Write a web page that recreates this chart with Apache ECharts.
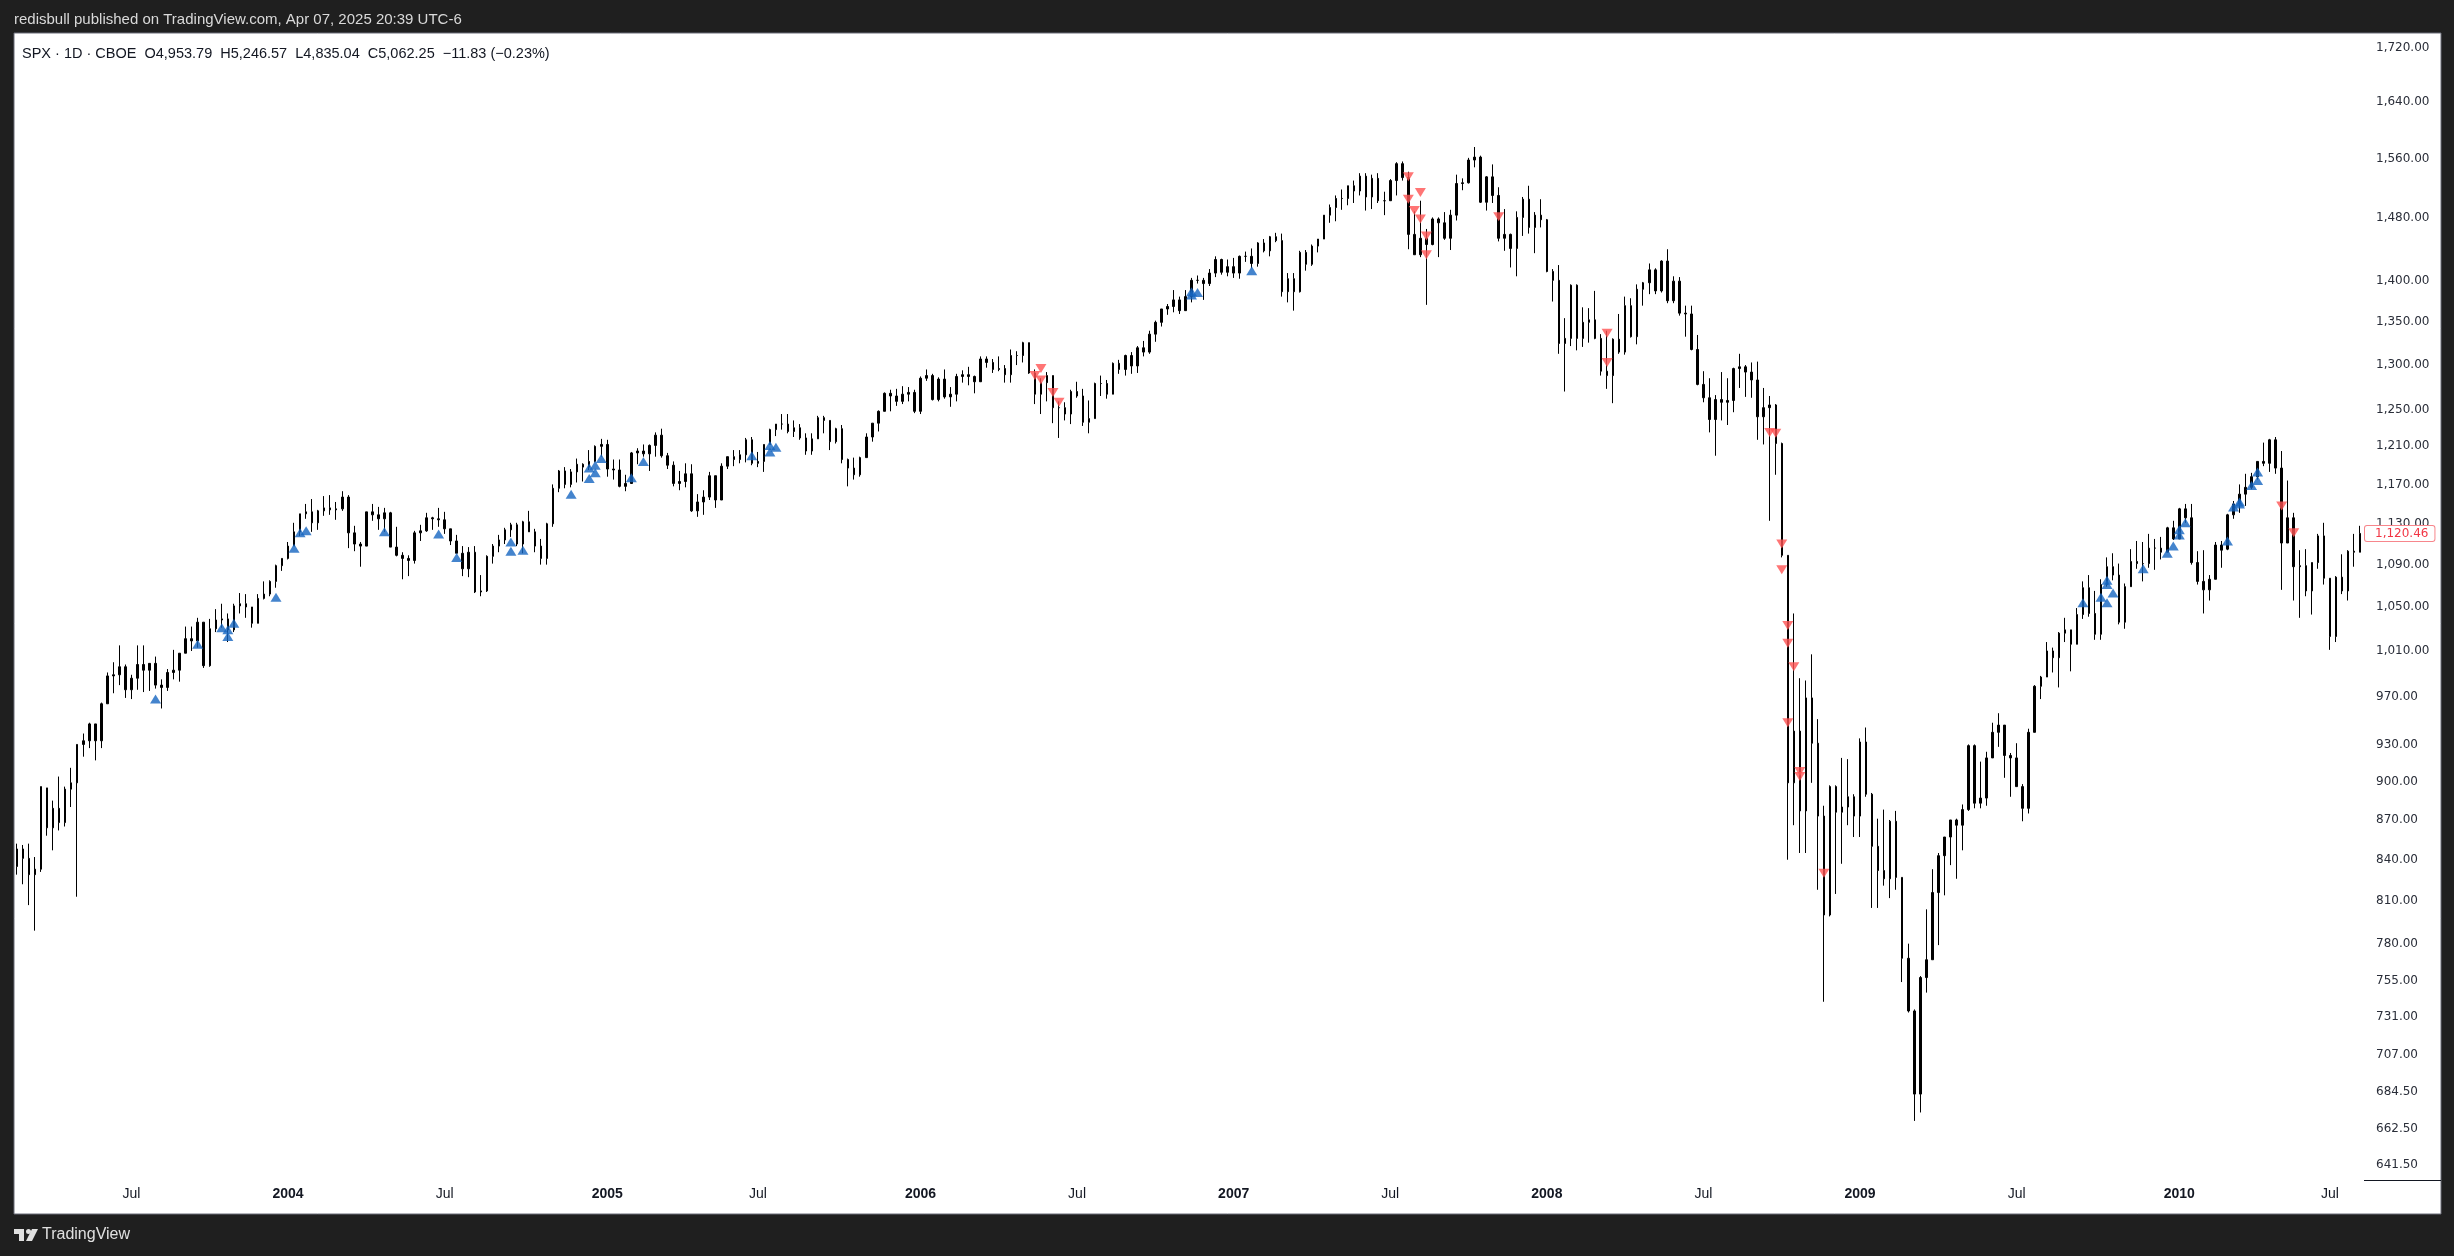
<!DOCTYPE html>
<html><head><meta charset="utf-8">
<script src="https://cdn.jsdelivr.net/npm/echarts@6/dist/echarts.min.js"></script>
<style>html,body{margin:0;padding:0;background:#1f1f1f;overflow:hidden}#c{width:2454px;height:1256px}</style>
</head><body><div id="c"></div>
<script>
// Weekly bars (week starting Monday), each row = [open, close, low, high]
const firstWeek = '2003-02-17';
const ohlc2003 = [
[835,848,829,852],[848,841,822,851],[841,829,807,852],[829,833,789,842],[833,896,831,896],
[895,864,858,895],[864,879,847,885],[879,868,862,904],[868,894,865,896],[894,899,880,911],
[899,930,813,930],[930,933,920,939],[933,947,927,948],[947,933,917,947],[933,964,927,965],
[964,988,964,991],[988,989,973,1000],[989,996,980,1015],[996,976,969,998],[976,986,968,989],
[986,998,976,1015],[998,993,974,1015],[993,999,975,999],[999,980,977,1005],[980,978,960,985],
[978,991,975,994],[991,993,985,1011],[993,1008,983,1008],[1008,1021,1008,1032],[1021,1019,1010,1032],
[1019,1036,1013,1040],[1036,997,995,1036],[997,1030,996,1039],[1030,1038,1027,1048],[1038,1039,1031,1053],
[1039,1029,1018,1044],[1029,1051,1027,1053],[1051,1053,1044,1063],[1053,1050,1040,1062],[1050,1035,1031,1050],
[1035,1058,1035,1062],[1058,1062,1057,1074],[1062,1074,1060,1075],[1074,1089,1068,1090],[1089,1096,1084,1096],
[1096,1108,1095,1112]
];
const ohlc2004 = [
[1108,1122,1108,1131],[1122,1140,1118,1140],[1140,1142,1135,1150],[1142,1131,1122,1155],[1131,1143,1124,1144],
[1143,1146,1138,1158],[1146,1144,1139,1159],[1144,1145,1134,1152],[1145,1157,1143,1163],[1157,1121,1106,1159],
[1121,1110,1103,1128],[1110,1108,1088,1112],[1108,1142,1108,1142],[1142,1139,1133,1150],[1139,1135,1124,1147],
[1135,1141,1122,1146],[1141,1107,1107,1142],[1107,1099,1098,1127],[1099,1096,1076,1102],[1096,1094,1079,1099],
[1094,1121,1091,1123],[1121,1123,1113,1129],[1123,1136,1122,1141],[1136,1135,1124,1137],[1135,1134,1127,1146],
[1134,1125,1120,1142],[1125,1113,1109,1125],[1113,1101,1101,1119],[1101,1086,1079,1108],[1086,1102,1078,1107],
[1102,1064,1063,1108],[1064,1065,1060,1080],[1065,1098,1064,1099],[1098,1108,1091,1110],[1108,1114,1102,1119],
[1114,1124,1110,1126],[1124,1129,1117,1131],[1129,1110,1108,1131],[1110,1132,1101,1133],[1132,1122,1122,1143],
[1122,1108,1102,1125],[1108,1096,1090,1115],[1096,1130,1090,1131],[1130,1166,1127,1170],[1166,1184,1162,1185],
[1184,1170,1166,1188],[1170,1183,1167,1186],[1183,1191,1172,1197],[1191,1188,1173,1192],[1188,1194,1185,1206],
[1194,1210,1193,1211],[1210,1212,1199,1218]
];
const ohlc2005 = [
[1212,1186,1178,1217],[1186,1185,1175,1196],[1185,1168,1167,1196],[1168,1171,1163,1180],[1171,1203,1171,1204],
[1203,1205,1191,1208],[1205,1202,1199,1212],[1202,1211,1184,1212],[1211,1222,1199,1225],[1222,1200,1198,1229],
[1200,1190,1186,1203],[1190,1171,1168,1194],[1171,1173,1164,1184],[1173,1181,1167,1192],[1181,1143,1142,1191],
[1143,1152,1137,1160],[1152,1157,1139,1164],[1157,1179,1154,1183],[1179,1154,1146,1179],[1154,1189,1154,1192],
[1189,1199,1186,1199],[1199,1196,1189,1206],[1196,1201,1192,1206],[1201,1217,1193,1219],[1217,1192,1190,1220],
[1192,1194,1188,1204],[1194,1212,1183,1212],[1212,1228,1212,1229],[1228,1234,1221,1234],[1234,1234,1228,1245],
[1234,1226,1224,1245],[1226,1230,1220,1238],[1230,1219,1217,1234],[1219,1205,1201,1224],[1205,1218,1201,1224],
[1218,1241,1218,1243],[1241,1238,1224,1243],[1238,1215,1206,1238],[1215,1229,1213,1230],[1229,1196,1192,1233],
[1196,1187,1168,1197],[1187,1180,1175,1198],[1180,1198,1178,1199],[1198,1220,1198,1224],[1220,1235,1215,1235],
[1235,1248,1226,1249],[1248,1268,1248,1269],[1268,1265,1248,1272],[1265,1259,1254,1273],[1259,1267,1256,1276],
[1267,1269,1259,1275],[1269,1248,1246,1272]
];
const ohlc2006 = [
[1248,1285,1245,1287],[1285,1288,1282,1295],[1288,1261,1260,1290],[1261,1284,1259,1286],[1284,1264,1262,1295],
[1264,1267,1253,1275],[1267,1287,1259,1290],[1287,1289,1280,1294],[1289,1287,1277,1298],[1287,1281,1268,1288],
[1281,1307,1281,1310],[1307,1303,1297,1310],[1303,1295,1291,1307],[1295,1296,1293,1310],[1296,1289,1280,1300],
[1289,1311,1280,1318],[1311,1311,1300,1316],[1311,1326,1303,1327],[1326,1291,1290,1326],[1291,1267,1256,1295],
[1267,1280,1245,1285],[1280,1288,1259,1292],[1288,1252,1235,1288],[1252,1252,1219,1259],[1252,1245,1238,1258],
[1245,1270,1234,1272],[1270,1265,1263,1281],[1265,1236,1232,1273],[1236,1240,1224,1260],[1240,1279,1240,1280],
[1279,1279,1265,1288],[1279,1267,1262,1283],[1267,1302,1267,1303],[1302,1295,1290,1306],[1295,1311,1288,1312],
[1311,1299,1290,1315],[1299,1320,1291,1322],[1320,1315,1310,1328],[1315,1336,1313,1340],[1336,1350,1327,1352],
[1350,1366,1345,1366],[1366,1369,1359,1372],[1369,1377,1362,1389],[1377,1364,1360,1381],[1364,1381,1364,1389],
[1381,1401,1374,1404],[1401,1401,1397,1407],[1401,1397,1377,1404],[1397,1410,1394,1415],[1410,1427,1405,1431],
[1427,1411,1408,1428],[1411,1418,1406,1427]
];
const ohlc2007 = [
[1418,1410,1404,1429],[1410,1431,1403,1432],[1431,1431,1424,1437],[1431,1422,1416,1441],[1422,1448,1418,1449],
[1448,1438,1436,1453],[1438,1456,1431,1457],[1456,1451,1449,1461],[1451,1387,1381,1460],[1387,1403,1374,1410],
[1403,1387,1364,1410],[1387,1436,1386,1438],[1436,1421,1413,1439],[1421,1444,1419,1446],[1444,1453,1436,1453],
[1453,1484,1453,1484],[1484,1494,1474,1498],[1494,1506,1476,1510],[1506,1506,1491,1518],[1506,1523,1497,1523],
[1523,1516,1500,1530],[1516,1536,1510,1540],[1536,1508,1490,1540],[1508,1533,1492,1538],[1533,1503,1500,1540],
[1503,1503,1484,1515],[1503,1530,1503,1532],[1530,1553,1510,1555],[1553,1534,1530,1556],[1534,1459,1440,1542],
[1459,1433,1433,1489],[1433,1454,1430,1503],[1454,1446,1371,1466],[1446,1479,1445,1481],[1479,1474,1430,1481],
[1474,1454,1452,1488],[1454,1484,1439,1491],[1484,1526,1477,1538],[1526,1527,1517,1533],[1527,1558,1526,1561],
[1558,1562,1548,1576],[1562,1501,1500,1564],[1501,1535,1490,1536],[1535,1510,1500,1552],[1510,1454,1450,1521],
[1454,1459,1438,1492],[1459,1441,1417,1460],[1441,1481,1406,1489],[1481,1505,1457,1508],[1505,1468,1460,1523],
[1468,1484,1435,1488],[1484,1478,1468,1505]
];
const ohlc2008 = [
[1478,1412,1411,1479],[1412,1401,1375,1415],[1401,1325,1313,1420],[1325,1331,1270,1355],[1331,1395,1322,1396],
[1395,1331,1317,1396],[1331,1350,1321,1368],[1350,1353,1326,1367],[1353,1331,1330,1388],[1331,1293,1288,1336],
[1293,1288,1273,1340],[1288,1330,1257,1331],[1330,1315,1313,1360],[1315,1370,1312,1381],[1370,1333,1332,1379],
[1333,1390,1324,1396],[1390,1398,1370,1399],[1398,1414,1384,1422],[1414,1388,1384,1416],[1388,1425,1386,1426],
[1425,1376,1373,1440],[1376,1400,1373,1406],[1400,1361,1358,1405],[1361,1360,1333,1370],[1360,1318,1317,1370],
[1318,1278,1277,1335],[1278,1263,1258,1293],[1263,1239,1225,1285],[1239,1261,1200,1266],[1261,1258,1238,1292],
[1258,1260,1233,1285],[1260,1296,1247,1297],[1296,1298,1274,1313],[1298,1292,1264,1300],[1292,1283,1263,1303],
[1283,1242,1217,1304],[1242,1252,1212,1274],[1252,1255,1133,1265],[1255,1213,1180,1256],[1213,1099,1097,1214],
[1099,899,840,1099],[899,941,866,1044],[941,877,845,986],[877,969,845,984],[969,931,899,1007],
[931,873,818,951],[873,800,741,881],[800,896,799,897],[896,876,815,897],[876,880,837,919],
[880,888,866,918],[888,873,857,890],[873,932,857,935]
];
const ohlc2009 = [
[932,890,888,944],[890,850,805,891],[850,832,805,871],[832,826,821,878],[826,869,812,870],
[869,827,818,877],[827,770,754,827],[770,735,734,780],[735,683,667,736],[683,757,672,758],
[757,769,747,804],[769,816,769,833],[816,843,779,845],[843,857,814,857],[857,870,836,870],
[870,866,826,871],[866,878,847,882],[878,929,877,930],[929,883,879,930],[883,887,879,916],
[887,919,881,924],[919,940,919,948],[940,946,928,956],[946,921,903,946],[921,919,888,923],
[919,896,896,931],[896,879,869,898],[879,940,875,943],[940,979,940,980],[979,987,968,988],
[987,1010,987,1018],[1010,1004,991,1013],[1004,1026,978,1027],[1026,1029,1018,1040],[1029,1016,992,1029],
[1016,1043,1016,1049],[1043,1068,1039,1074],[1068,1044,1041,1080],[1044,1025,1020,1065],[1025,1071,1020,1076],
[1071,1088,1069,1097],[1088,1080,1075,1101],[1080,1036,1034,1091],[1036,1069,1030,1072],[1069,1093,1069,1105],
[1093,1091,1086,1113],[1091,1091,1074,1112],[1091,1106,1087,1120],[1106,1106,1085,1115],[1106,1102,1095,1117],
[1102,1126,1102,1127],[1126,1115,1114,1133]
];
const ohlc2010 = [
[1115,1145,1115,1146],[1145,1136,1131,1150],[1136,1092,1090,1150],[1092,1074,1071,1103],[1074,1066,1044,1104],
[1066,1076,1056,1080],[1076,1109,1076,1112],[1109,1104,1087,1113],[1105,1139,1104,1140],[1139,1150,1135,1153],
[1150,1160,1141,1170],[1160,1167,1148,1181],[1167,1178,1165,1182],[1178,1194,1175,1194],[1194,1192,1189,1214],
[1192,1217,1183,1218],[1217,1187,1181,1220],[1187,1111,1066,1205],[1111,1136,1111,1174],[1136,1088,1056,1141],
[1088,1089,1040,1104],[1089,1065,1060,1105],[1065,1092,1043,1092],[1092,1118,1086,1120],[1118,1077,1071,1131],
[1077,1023,1011,1077],[1023,1078,1018,1079],[1078,1065,1062,1100],[1065,1103,1056,1104],[1103,1102,1088,1120],
[1102,1120.46,1102,1128]
];
const lastPrice = 1120.46;

// Signal markers: [week (Monday), price]
const buySignals = [
['2003-07-28',968],['2003-09-15',1016],['2003-10-13',1031],['2003-10-20',1029],['2003-10-20',1023],['2003-10-27',1035],
['2003-12-15',1059],['2004-01-05',1106],['2004-01-12',1121],['2004-01-19',1123],['2004-04-19',1122],['2004-06-21',1120],
['2004-07-12',1097],['2004-09-13',1112],['2004-09-13',1103],['2004-09-27',1104],['2004-11-22',1160],
['2004-12-13',1176],['2004-12-13',1187],['2004-12-20',1182],['2004-12-20',1190],['2004-12-27',1197],
['2005-01-31',1177],['2005-02-14',1194],['2005-06-20',1200],['2005-07-11',1204],['2005-07-11',1211],['2005-07-18',1209],
['2006-11-13',1383],['2006-11-13',1387],['2006-11-20',1386],['2007-01-22',1413],
['2009-09-14',1054],['2009-10-05',1059],['2009-10-12',1054],['2009-10-12',1071],['2009-10-12',1075],['2009-10-19',1063],
['2009-11-23',1086],['2009-12-21',1101],['2009-12-28',1108],['2010-01-04',1119],['2010-01-04',1124],['2010-01-11',1131],
['2010-03-01',1113],['2010-03-08',1147],['2010-03-15',1150],['2010-03-15',1152],['2010-03-29',1169],['2010-04-05',1174],['2010-04-05',1183]
];
const sellSignals = [
['2006-05-15',1288],['2006-05-22',1283],['2006-05-22',1296],['2006-06-05',1269],['2006-06-12',1258],
['2007-07-23',1535],['2007-07-23',1505],['2007-07-30',1490],['2007-08-06',1514],['2007-08-06',1479],['2007-08-13',1457],['2007-08-13',1433],
['2007-11-05',1482],['2008-03-10',1337],['2008-03-10',1303],
['2008-09-15',1225],['2008-09-22',1224],['2008-09-29',1110],['2008-09-29',1085],
['2008-10-06',1033],['2008-10-06',1017],['2008-10-06',948],['2008-10-13',996],['2008-10-20',908],['2008-10-20',904],
['2008-11-17',830],['2010-05-03',1148],['2010-05-17',1121]
];

// Price scale tick labels
const yTicks = [641.5,662.5,684.5,707,731,755,780,810,840,870,900,930,970,1010,1050,1090,1130,1170,1210,1250,1300,1350,1400,1480,1560,1640,1720];

const headerText = 'redisbull published on TradingView.com, Apr 07, 2025 20:39 UTC-6';
const legendText = 'SPX \u00b7 1D \u00b7 CBOE  O4,953.79  H5,246.57  L4,835.04  C5,062.25  \u221211.83 (\u22120.23%)';

const rows = [].concat(ohlc2003, ohlc2004, ohlc2005, ohlc2006, ohlc2007, ohlc2008, ohlc2009, ohlc2010);
const weeks = [];
const t0 = Date.parse(firstWeek + 'T00:00:00Z');
for (let i = 0; i < rows.length; i++) weeks.push(new Date(t0 + i * 7 * 86400000).toISOString().slice(0, 10));

function weekLabel(v) {
  const fri = new Date(Date.parse(v + 'T00:00:00Z') + 4 * 86400000);
  const m = fri.getUTCMonth(), d = fri.getUTCDate();
  if (m === 0 && d >= 2 && d <= 8) return String(fri.getUTCFullYear());
  if (m === 6 && d <= 7) return 'Jul';
  return null;
}
const fmt = v => Number(v).toLocaleString('en-US', {minimumFractionDigits: 2, maximumFractionDigits: 2});
const TXT = '#131722';

const chart = echarts.init(document.getElementById('c'), null, {renderer: 'canvas'});
chart.setOption({
  animation: false,
  backgroundColor: '#1f1f1f',
  grid: {left: 14, right: 91, top: 33, bottom: 76, containLabel: false},
  xAxis: {
    type: 'category', data: weeks, boundaryGap: true,
    axisLine: {show: false}, axisTick: {show: false}, splitLine: {show: false},
    axisLabel: {
      interval: (i, v) => weekLabel(v) !== null,
      formatter: v => { const s = weekLabel(v); return s === 'Jul' ? s : '{b|' + s + '}'; },
      color: TXT, fontFamily: 'Liberation Sans', fontSize: 14, margin: 7,
      rich: {b: {fontWeight: 'bold', fontFamily: 'Liberation Sans', fontSize: 14, color: TXT}}
    }
  },
  yAxis: {
    type: 'log', logBase: 10, min: 633.1, max: 1742.9, position: 'right',
    axisLine: {show: false}, axisTick: {show: false}, splitLine: {show: false},
    axisLabel: {customValues: yTicks, formatter: v => fmt(v), color: '#2a2e39', fontFamily: 'DejaVu Sans', fontSize: 12, margin: 13, align: 'left'}
  },
  graphic: {elements: [
    {type: 'rect', z: -10, shape: {x: 14, y: 33, width: 2427, height: 1181}, style: {fill: '#ffffff', stroke: '#6a6d78', lineWidth: 1}},
    {type: 'line', shape: {x1: 2364, y1: 1180.5, x2: 2441, y2: 1180.5}, style: {stroke: '#131722', lineWidth: 1}},
    {type: 'text', x: 14, y: 20, style: {text: headerText, fill: '#d9d9d9', font: '15px "Liberation Sans", sans-serif', verticalAlign: 'middle', textVerticalAlign: 'middle'}},
    {type: 'text', x: 22, y: 54, style: {text: legendText, fill: TXT, font: '14.5px "Liberation Sans", sans-serif', verticalAlign: 'middle', textVerticalAlign: 'middle'}},
    {type: 'polygon', shape: {points: [[14,1229],[24,1229],[24,1241],[19,1241],[19,1234],[14,1234]]}, style: {fill: '#e0e0e0'}},
    {type: 'circle', shape: {cx: 28.5, cy: 1231.5, r: 2.5}, style: {fill: '#e0e0e0'}},
    {type: 'polygon', shape: {points: [[32,1229],[38,1229],[32,1241],[26,1241]]}, style: {fill: '#e0e0e0'}},
    {type: 'text', x: 42, y: 1235, style: {text: 'TradingView', fill: '#e0e0e0', font: '16px "Liberation Sans", sans-serif', verticalAlign: 'middle', textVerticalAlign: 'middle'}}
  ]},
  series: [
    {
      type: 'candlestick', data: rows, barWidth: 2,
      itemStyle: {color: '#000000', color0: '#000000', borderColor: '#000000', borderColor0: '#000000', borderWidth: 1},
      markLine: {
        silent: true, symbol: ['none', 'none'], animation: false,
        lineStyle: {color: 'rgba(0,0,0,0)', width: 0},
        label: {show: true, position: 'end', distance: 2, formatter: () => fmt(lastPrice),
          color: '#f23645', fontFamily: 'DejaVu Sans', fontSize: 12, backgroundColor: '#ffffff',
          borderColor: '#f7868c', borderWidth: 1, borderRadius: 2, padding: [2, 6, 1, 10]},
        data: [{yAxis: lastPrice}]
      }
    },
    {type: 'scatter', data: buySignals, symbol: 'triangle', symbolSize: [11, 9], itemStyle: {color: '#1565c0'}, z: 3},
    {type: 'scatter', data: sellSignals, symbol: 'triangle', symbolRotate: 180, symbolSize: [11, 9], itemStyle: {color: '#ff5252'}, z: 3}
  ]
});
</script></body></html>
